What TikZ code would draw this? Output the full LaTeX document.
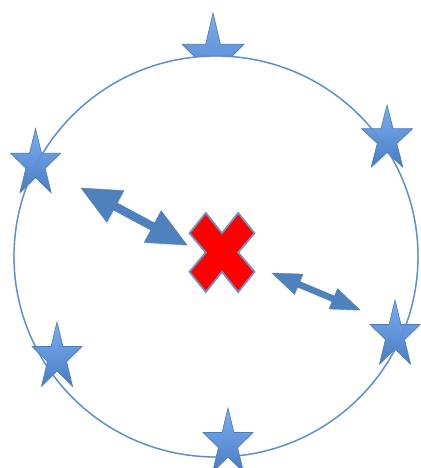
\documentclass[tikz,border=0pt]{standalone}
\usetikzlibrary{calc,shadows}
\definecolor{starTop}{HTML}{7AAEF0}
\definecolor{starBot}{HTML}{4A7CC2}
\definecolor{starLine}{HTML}{4C7AB6}
\definecolor{arrBlue}{HTML}{4F81BD}
\definecolor{circLine}{HTML}{5B8DD0}
\tikzset{
  starshape/.style={top color=starTop, bottom color=starBot, draw=starLine,
    line width=0.6pt, line join=miter,
    drop shadow={shadow xshift=1pt, shadow yshift=-1.5pt, opacity=0.15}},
  fatarrow/.style={fill=arrBlue, draw=arrBlue, line width=0.4pt, line join=miter,
    drop shadow={shadow xshift=1pt, shadow yshift=-1.5pt, opacity=0.15}},
  circline/.style={draw=circLine, line width=1.3pt},
  xmark/.style={fill=red, draw=arrBlue!85, line width=1.8pt, line join=miter}
}
% star: centre x, centre y, x radius, y radius (pixel coordinates)
\newcommand\mystar[4]{%
  \path[starshape] ({#1},{#2-#4})
    \foreach \a/\r in {126/0.382,162/1,198/0.382,234/1,270/0.382,306/1,342/0.382,18/1,54/0.382}
      { -- ({#1+#3*\r*cos(\a)},{#2-#4*\r*sin(\a)}) } -- cycle;}
% double fat arrow: tip A, tip B, head length, head half width, shaft half width
\newcommand\fatarr[5]{%
  \coordinate (h1) at ($(#1)!#3!(#2)$);
  \coordinate (h2) at ($(#2)!#3!(#1)$);
  \path[fatarrow] (#1) -- ($(h1)!#4!90:(#2)$) -- ($(h1)!#5!90:(#2)$)
    -- ($(h2)!#5!-90:(#1)$) -- ($(h2)!#4!-90:(#1)$) -- (#2)
    -- ($(h2)!#4!90:(#1)$) -- ($(h2)!#5!90:(#1)$)
    -- ($(h1)!#5!-90:(#2)$) -- ($(h1)!#4!-90:(#2)$) -- cycle;}
\begin{document}
\begin{tikzpicture}[x=1pt,y=-1pt]
\useasboundingbox (0,0) rectangle (420,468);
\fill[white] (0,0) rectangle (420,468);
% top star, partly hidden behind the circle
\mystar{213}{58}{32.6}{45}
\coordinate (c) at (216,256.5);
\fill[white] (c) ellipse [x radius=202pt, y radius=200.5pt];
\draw[circline] (c) ellipse [x radius=202pt, y radius=200.5pt];
% stars on the circle
\mystar{35.5}{164}{26.5}{35.4}
\mystar{387}{139.3}{26.8}{34.3}
\mystar{57}{357.4}{26.3}{35.4}
\mystar{395}{335.4}{26.3}{35.4}
\mystar{228}{443.4}{26.3}{35.4}
\draw[circline, opacity=0.55] (c) ellipse [x radius=202pt, y radius=200.5pt];
% arrows
\coordinate (a1s) at (81,188);
\coordinate (a1e) at (187,245);
\fatarr{a1s}{a1e}{39pt}{18pt}{4pt}
\coordinate (a2s) at (272,273);
\coordinate (a2e) at (360,310);
\fatarr{a2s}{a2e}{29pt}{11pt}{3pt}
% red X
\path[xmark] (222,233.2) -- (238.2,213) -- (254.5,233.2) -- (238.2,252.5)
  -- (254.5,271.8) -- (238.2,292) -- (222,271.8) -- (205.8,292)
  -- (189.5,271.8) -- (205.8,252.5) -- (189.5,233.2) -- (205.8,213) -- cycle;
\end{tikzpicture}
\end{document}
